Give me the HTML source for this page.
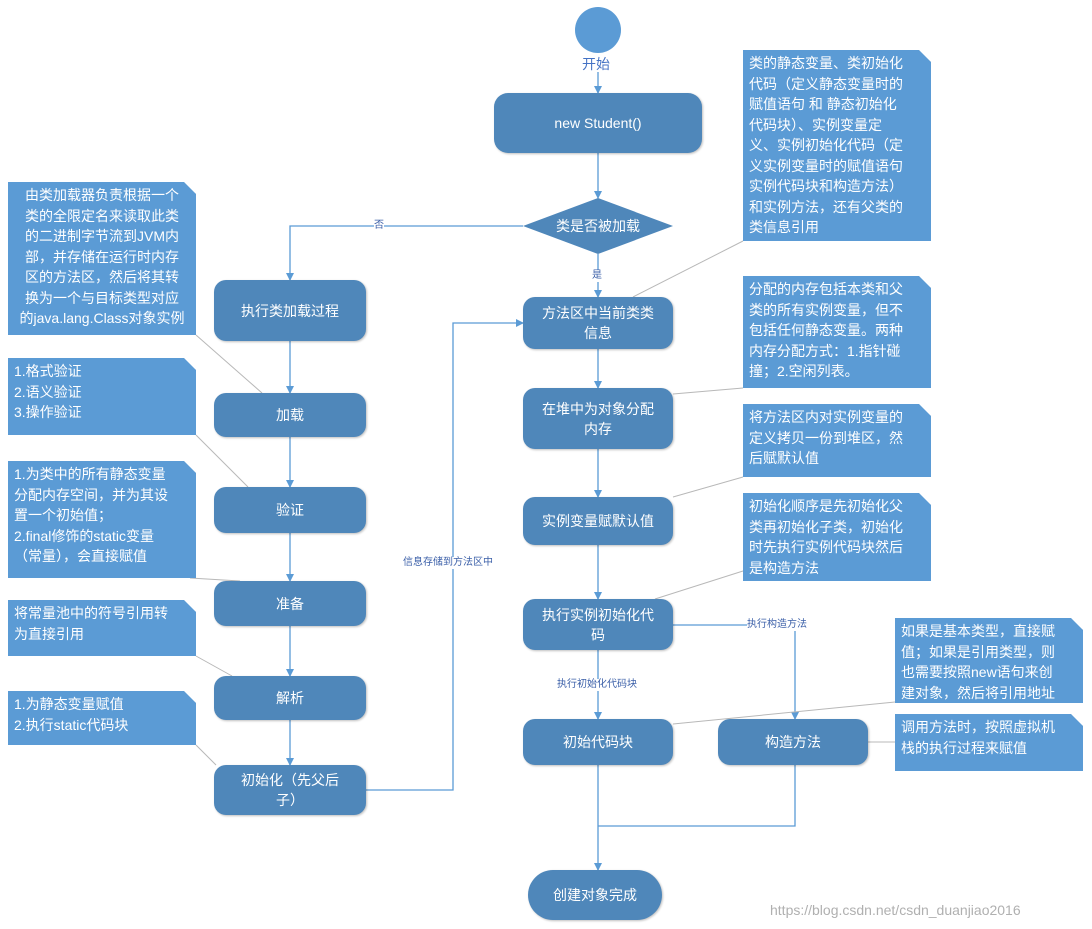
<!DOCTYPE html><html><head><meta charset="utf-8"><style>
body{margin:0;width:1092px;height:929px;background:#fff;position:relative;overflow:hidden;font-family:"Liberation Sans","Noto Sans CJK SC",sans-serif}
.n{position:absolute;background:#4f87ba;color:#fff;font-size:14px;display:flex;align-items:center;justify-content:center;text-align:center;border-radius:12px;line-height:20px;box-shadow:1px 1px 2px rgba(0,0,0,.25)}
.t{position:absolute;background:#5b9bd5;color:#fff;font-size:14px;line-height:20.5px;padding:3px 6px;box-sizing:border-box;box-shadow:1px 1px 2px rgba(0,0,0,.2);clip-path:polygon(0 0,calc(100% - 12px) 0,100% 12px,100% 100%,0 100%);white-space:nowrap;overflow:hidden}
.l{position:absolute;font-size:10px;color:#3b5fa8;background:#fff;line-height:12px}
</style></head><body>
<svg width="1092" height="929" style="position:absolute;left:0;top:0">
<defs><marker id="a" markerWidth="8" markerHeight="8" refX="7" refY="4" orient="auto" markerUnits="userSpaceOnUse"><path d="M0,0L8,4L0,8z" fill="#5b9bd5"/></marker></defs>
<g stroke="#5b9bd5" stroke-width="1.3" fill="none">
<line x1="598" y1="72" x2="598" y2="93" marker-end="url(#a)"/>
<line x1="598" y1="153" x2="598" y2="198" marker-end="url(#a)"/>
<polyline points="523,226 290,226 290,280" marker-end="url(#a)"/>
<line x1="598" y1="254" x2="598" y2="297" marker-end="url(#a)"/>
<line x1="598" y1="349" x2="598" y2="388" marker-end="url(#a)"/>
<line x1="598" y1="449" x2="598" y2="497" marker-end="url(#a)"/>
<line x1="598" y1="545" x2="598" y2="599" marker-end="url(#a)"/>
<line x1="598" y1="650" x2="598" y2="719" marker-end="url(#a)"/>
<polyline points="673,625 795,625 795,719" marker-end="url(#a)"/>
<line x1="598" y1="765" x2="598" y2="870" marker-end="url(#a)"/>
<polyline points="795,765 795,826 598,826"/>
<line x1="290" y1="341" x2="290" y2="393" marker-end="url(#a)"/>
<line x1="290" y1="437" x2="290" y2="487" marker-end="url(#a)"/>
<line x1="290" y1="533" x2="290" y2="581" marker-end="url(#a)"/>
<line x1="290" y1="626" x2="290" y2="676" marker-end="url(#a)"/>
<line x1="290" y1="720" x2="290" y2="765" marker-end="url(#a)"/>
<polyline points="366,790 453,790 453,323 523,323" marker-end="url(#a)"/>
</g>
<g stroke="#b8b8b8" stroke-width="1">
<line x1="743" y1="241" x2="633" y2="297"/>
<line x1="743" y1="388" x2="673" y2="394"/>
<line x1="743" y1="477" x2="673" y2="497"/>
<line x1="743" y1="571" x2="655" y2="599"/>
<line x1="895" y1="702" x2="673" y2="724"/>
<line x1="895" y1="742" x2="868" y2="742"/>
<line x1="196" y1="335" x2="262" y2="393"/>
<line x1="196" y1="435" x2="248" y2="487"/>
<line x1="190" y1="578" x2="240" y2="581"/>
<line x1="196" y1="656" x2="232" y2="676"/>
<line x1="196" y1="745" x2="216" y2="765"/>
</g>
<circle cx="598" cy="30" r="23" fill="#5b9bd5"/>
<polygon points="523,226 598,198 673,226 598,254" fill="#4f87ba"/>
</svg>
<div style="position:absolute;left:582px;top:54px;font-size:14px;color:#4472c4">开始</div>
<div style="position:absolute;left:523px;top:216px;width:150px;text-align:center;color:#fff;font-size:14px">类是否被加载</div>
<div class="l" style="left:374px;top:220px">否</div>
<div class="l" style="left:592px;top:270px">是</div>
<div class="l" style="left:403px;top:557px">信息存储到方法区中</div>
<div class="l" style="left:747px;top:619px">执行构造方法</div>
<div class="l" style="left:557px;top:679px">执行初始化代码块</div>
<div class="n" style="left:494px;top:93px;width:208px;height:60px;border-radius:14px">new Student()</div>
<div class="n" style="left:523px;top:297px;width:150px;height:52px">方法区中当前类类<br>信息</div>
<div class="n" style="left:523px;top:388px;width:150px;height:61px">在堆中为对象分配<br>内存</div>
<div class="n" style="left:523px;top:497px;width:150px;height:48px">实例变量赋默认值</div>
<div class="n" style="left:523px;top:599px;width:150px;height:51px">执行实例初始化代<br>码</div>
<div class="n" style="left:523px;top:719px;width:150px;height:46px">初始代码块</div>
<div class="n" style="left:718px;top:719px;width:150px;height:46px">构造方法</div>
<div class="n" style="left:528px;top:870px;width:134px;height:50px;border-radius:25px">创建对象完成</div>
<div class="n" style="left:214px;top:280px;width:152px;height:61px">执行类加载过程</div>
<div class="n" style="left:214px;top:393px;width:152px;height:44px">加载</div>
<div class="n" style="left:214px;top:487px;width:152px;height:46px">验证</div>
<div class="n" style="left:214px;top:581px;width:152px;height:45px">准备</div>
<div class="n" style="left:214px;top:676px;width:152px;height:44px">解析</div>
<div class="n" style="left:214px;top:765px;width:152px;height:50px">初始化（先父后<br>子）</div>
<div class="t" style="left:8px;top:182px;width:188px;height:153px;text-align:center">由类加载器负责根据一个<br>类的全限定名来读取此类<br>的二进制字节流到JVM内<br>部，并存储在运行时内存<br>区的方法区，然后将其转<br>换为一个与目标类型对应<br>的java.lang.Class对象实例</div>
<div class="t" style="left:8px;top:358px;width:188px;height:77px">1.格式验证<br>2.语义验证<br>3.操作验证</div>
<div class="t" style="left:8px;top:461px;width:188px;height:117px">1.为类中的所有静态变量<br>分配内存空间，并为其设<br>置一个初始值；<br>2.final修饰的static变量<br>（常量），会直接赋值</div>
<div class="t" style="left:8px;top:600px;width:188px;height:56px">将常量池中的符号引用转<br>为直接引用</div>
<div class="t" style="left:8px;top:691px;width:188px;height:54px">1.为静态变量赋值<br>2.执行static代码块</div>
<div class="t" style="left:743px;top:50px;width:188px;height:191px">类的静态变量、类初始化<br>代码（定义静态变量时的<br>赋值语句 和 静态初始化<br>代码块）、实例变量定<br>义、实例初始化代码（定<br>义实例变量时的赋值语句<br>实例代码块和构造方法）<br>和实例方法，还有父类的<br>类信息引用</div>
<div class="t" style="left:743px;top:276px;width:188px;height:112px">分配的内存包括本类和父<br>类的所有实例变量，但不<br>包括任何静态变量。两种<br>内存分配方式：1.指针碰<br>撞；2.空闲列表。</div>
<div class="t" style="left:743px;top:404px;width:188px;height:73px">将方法区内对实例变量的<br>定义拷贝一份到堆区，然<br>后赋默认值</div>
<div class="t" style="left:743px;top:493px;width:188px;height:88px">初始化顺序是先初始化父<br>类再初始化子类，初始化<br>时先执行实例代码块然后<br>是构造方法</div>
<div class="t" style="left:895px;top:618px;width:188px;height:85px">如果是基本类型，直接赋<br>值；如果是引用类型，则<br>也需要按照new语句来创<br>建对象，然后将引用地址<br>赋值</div>
<div class="t" style="left:895px;top:714px;width:188px;height:57px">调用方法时，按照虚拟机<br>栈的执行过程来赋值</div>
<div style="position:absolute;left:770px;top:902px;font-size:14px;color:#b0b0b0">https://blog.csdn.net/csdn_duanjiao2016</div>
</body></html>
